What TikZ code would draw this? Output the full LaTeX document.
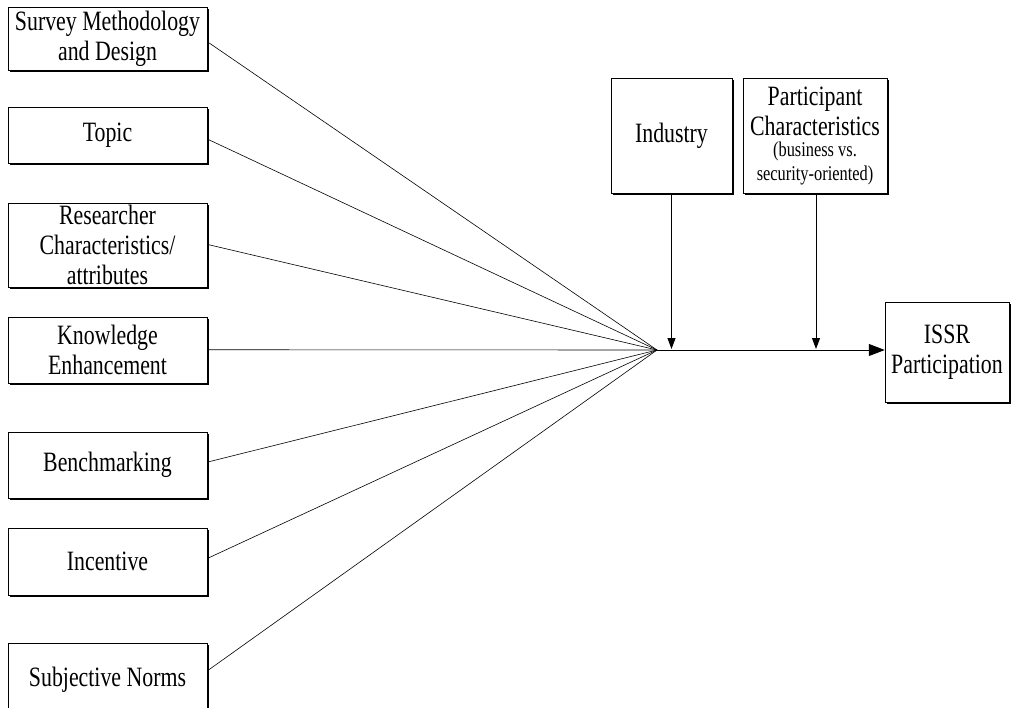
\documentclass[tikz,border=0pt]{standalone}
\usepackage{fontspec}
\setmainfont{Liberation Serif}[FakeStretch=0.78]
\usetikzlibrary{shadows,arrows.meta,calc}
\begin{document}
\begin{tikzpicture}[x=1pt,y=-1pt,
  box/.style={draw=black, line width=0.5pt, fill=white, inner sep=0pt, align=center,
    font=\fontsize{28}{30}\selectfont,
    drop shadow={shadow xshift=1.6pt, shadow yshift=-1.6pt, fill=black, opacity=1}},
  lbox/.style={box, minimum width=199pt},
  link/.style={line width=0.6pt},
  arr/.style={line width=0.9pt, -{Triangle[length=11pt,width=8pt]}},
  harr/.style={line width=0.9pt, -{Triangle[length=16pt,width=12pt]}}]
\useasboundingbox (0,0) rectangle (1012,707);
\fill[white] (0,0) rectangle (1012,707);

\node[lbox, minimum height=63pt] (survey) at (107.5,38.5) {Survey Methodology\\and Design};
\node[lbox, minimum height=56pt] (topic) at (107.5,135) {Topic};
\node[lbox, minimum height=84pt] (res) at (107.5,245) {Researcher\\Characteristics/\\attributes};
\node[lbox, minimum height=66pt] (know) at (107.5,350) {Knowledge\\Enhancement};
\node[lbox, minimum height=66pt] (bench) at (107.5,465) {Benchmarking};
\node[lbox, minimum height=67pt] (inc) at (107.5,561.5) {Incentive};
\node[lbox, minimum height=74pt] (subj) at (107.5,680) {Subjective Norms};

\node[box, minimum width=121pt, minimum height=115pt] (ind) at (671.5,135.5) {Industry};
\node[box, minimum width=144pt, minimum height=115pt] (part) at (815,135.5)
  {Participant\\Characteristics\\[-9pt]{\fontsize{21}{23}\selectfont (business vs.}\\[-6pt]{\fontsize{21}{23}\selectfont security-oriented)}};
\node[box, minimum width=124pt, minimum height=100pt] (issr) at (947,352) {ISSR\\Participation};

\coordinate (hub) at (657,350);

\draw[link] ($(survey.north east)+(1.6,36)$) -- (hub);
\draw[link] ($(topic.north east)+(1.6,33)$) -- (hub);
\draw[link] ($(res.north east)+(1.6,42)$) -- (hub);
\draw[link] ($(know.north east)+(1.6,33)$) -- (hub);
\draw[link] ($(bench.north east)+(1.6,30)$) -- (hub);
\draw[link] ($(inc.north east)+(1.6,30)$) -- (hub);
\draw[link] ($(subj.north east)+(1.6,27)$) -- (hub);

\draw[harr] (hub) -- (hub -| issr.west);
\draw[arr] ($(ind.south)+(0,1.6)$) -- ($(ind.south |- hub)+(0,-1)$);
\draw[arr] ($(part.south)+(1,1.6)$) -- ($(part.south |- hub)+(1,-1)$);
\end{tikzpicture}
\end{document}
